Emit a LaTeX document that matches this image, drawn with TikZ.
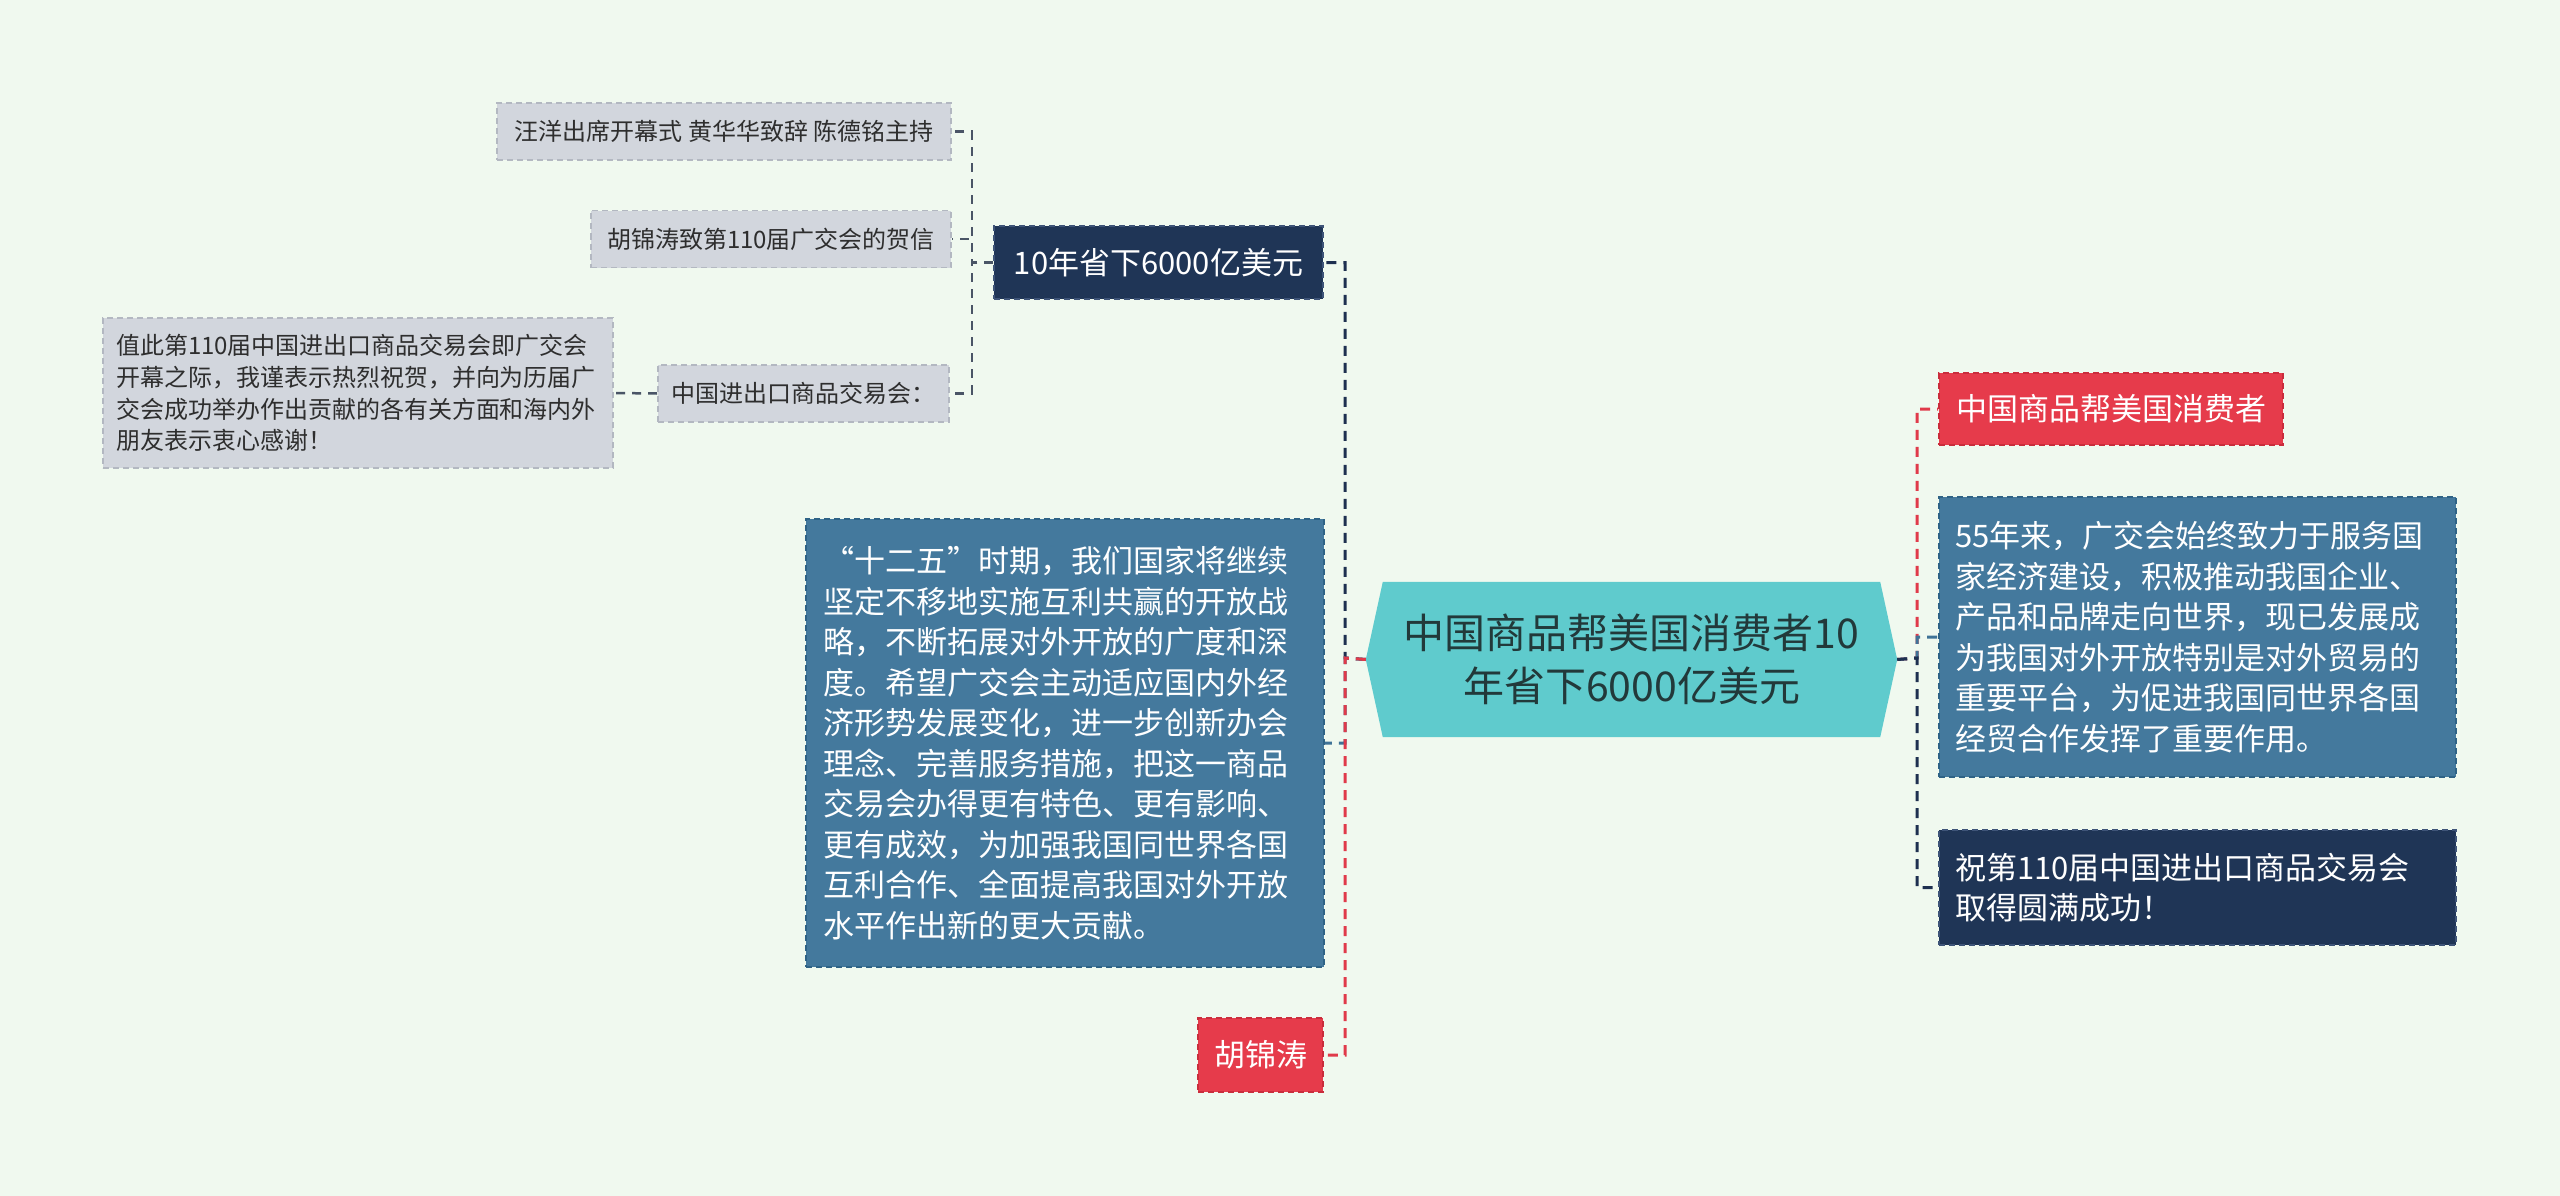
\documentclass[tikz,border=0pt]{standalone}
\usepackage{fontspec}
\setmainfont{Noto Sans CJK SC}
\usetikzlibrary{backgrounds}
\definecolor{bgc}{HTML}{F0F9EF}
\definecolor{grayfill}{HTML}{D2D6DD}
\definecolor{grayline}{HTML}{B3B8C1}
\definecolor{graytext}{HTML}{2E2E2E}
\definecolor{navyfill}{HTML}{1F3556}
\definecolor{navyline}{HTML}{3E5478}
\definecolor{bluefill}{HTML}{44799D}
\definecolor{blueline}{HTML}{2F6386}
\definecolor{redfill}{HTML}{E63B4B}
\definecolor{redline}{HTML}{C92D3C}
\definecolor{tealfill}{HTML}{5FCBCD}
\definecolor{roottext}{HTML}{22393A}
\definecolor{cgray}{HTML}{4A5566}
\definecolor{cnavy}{HTML}{1E3050}
\definecolor{cred}{HTML}{E03A4A}
\definecolor{cblue}{HTML}{3F7397}
\begin{document}
\begin{tikzpicture}[x=1pt,y=-1pt,
  box/.style={rectangle, inner ysep=0pt, line width=1.8pt, dash pattern=on 6pt off 4pt},
  graybox/.style={box, inner xsep=0pt, fill=grayfill, draw=grayline, text=graytext, font=\fontsize{24}{31.7}\selectfont},
  navybox/.style={box, inner xsep=0pt, fill=navyfill, draw=navyline, text=white, font=\fontsize{31}{40}\selectfont},
  bluebox/.style={box, inner xsep=0pt, fill=bluefill, draw=blueline, text=white, font=\fontsize{31}{40.5}\selectfont},
  redbox/.style={box, inner xsep=0pt, fill=redfill, draw=redline, text=white, font=\fontsize{31}{40}\selectfont},
  conn/.style={line width=3pt, dash pattern=on 10pt off 7pt},
  gconn/.style={line width=2.5pt, dash pattern=on 9pt off 7pt, draw=cgray}
]
\useasboundingbox (0,0) rectangle (2560,1196);
\begin{pgfonlayer}{background}
\fill[bgc] (0,0) rectangle (2560,1196);
\end{pgfonlayer}

% root
\node[rectangle, inner sep=0pt, minimum width=531pt, minimum height=155pt, align=center,
  text=roottext, font=\fontsize{41}{53}\selectfont] (root) at (1631.5,659.5)
  {中国商品帮美国消费者10\\年省下6000亿美元};
\begin{pgfonlayer}{background}
\fill[tealfill] ([xshift=17pt]root.north west) -- ([xshift=-17pt]root.north east) -- (root.east)
  -- ([xshift=-17pt]root.south east) -- ([xshift=17pt]root.south west) -- (root.west) -- cycle;
\end{pgfonlayer}

% left side
\node[navybox, minimum width=329pt, minimum height=73pt] (E) at (1158.5,262.5) {10年省下6000亿美元};
\node[bluebox, inner xsep=17pt, text width=484pt, minimum height=448pt, align=left] (F) at (1065,743)
  {“十二五”时期，我们国家将继续\\坚定不移地实施互利共赢的开放战\\略，不断拓展对外开放的广度和深\\度。希望广交会主动适应国内外经\\济形势发展变化，进一步创新办会\\理念、完善服务措施，把这一商品\\交易会办得更有特色、更有影响、\\更有成效，为加强我国同世界各国\\互利合作、全面提高我国对外开放\\水平作出新的更大贡献。};
\node[redbox, minimum width=125pt, minimum height=74pt] (G) at (1260.5,1055) {胡锦涛};

\node[graybox, minimum width=454pt, minimum height=57pt] (A) at (724,131.5) {汪洋出席开幕式 黄华华致辞 陈德铭主持};
\node[graybox, minimum width=360pt, minimum height=57pt] (B) at (771,239) {胡锦涛致第110届广交会的贺信};
\node[graybox, minimum width=291pt, minimum height=57pt] (C) at (803.5,393.5) {中国进出口商品交易会：};
\node[graybox, inner xsep=13pt, text width=484pt, minimum height=150pt, align=left] (D) at (358,393)
  {值此第110届中国进出口商品交易会即广交会\\开幕之际，我谨表示热烈祝贺，并向为历届广\\交会成功举办作出贡献的各有关方面和海内外\\朋友表示衷心感谢！};

% right side
\node[redbox, minimum width=344pt, minimum height=72pt] (H) at (2111,409) {中国商品帮美国消费者};
\node[bluebox, inner xsep=16pt, text width=485pt, minimum height=280pt, align=left] (I) at (2197.5,637)
  {55年来，广交会始终致力于服务国\\家经济建设，积极推动我国企业、\\产品和品牌走向世界，现已发展成\\为我国对外开放特别是对外贸易的\\重要平台，为促进我国同世界各国\\经贸合作发挥了重要作用。};
\node[navybox, inner xsep=16pt, text width=485pt, minimum height=115pt, align=left] (J) at (2197.5,887.5)
  {祝第110届中国进出口商品交易会\\取得圆满成功！};

% trunk coordinates
\coordinate (lt) at (1345,658);
\coordinate (rt) at (1917,658);
\coordinate (et) at (972,262.5);

% connectors
\draw[conn, cnavy] (root.west) -- (lt) |- (E.east);
\draw[conn, cblue] (root.west) -- (lt) |- (F.east);
\draw[conn, cred] (root.west) -- (lt) |- (G.east);

\draw[conn, cred] (root.east) -- (rt) |- (H.west);
\draw[conn, cblue] (root.east) -- (rt) |- (I.west);
\draw[conn, cnavy] (root.east) -- (rt) |- (J.west);

\draw[gconn] (E.west) -- (et) |- (A.east);
\draw[gconn] (E.west) -- (et) |- (B.east);
\draw[gconn] (E.west) -- (et) |- (C.east);
\draw[gconn] (C.west) -- (D.east);
\end{tikzpicture}
\end{document}
